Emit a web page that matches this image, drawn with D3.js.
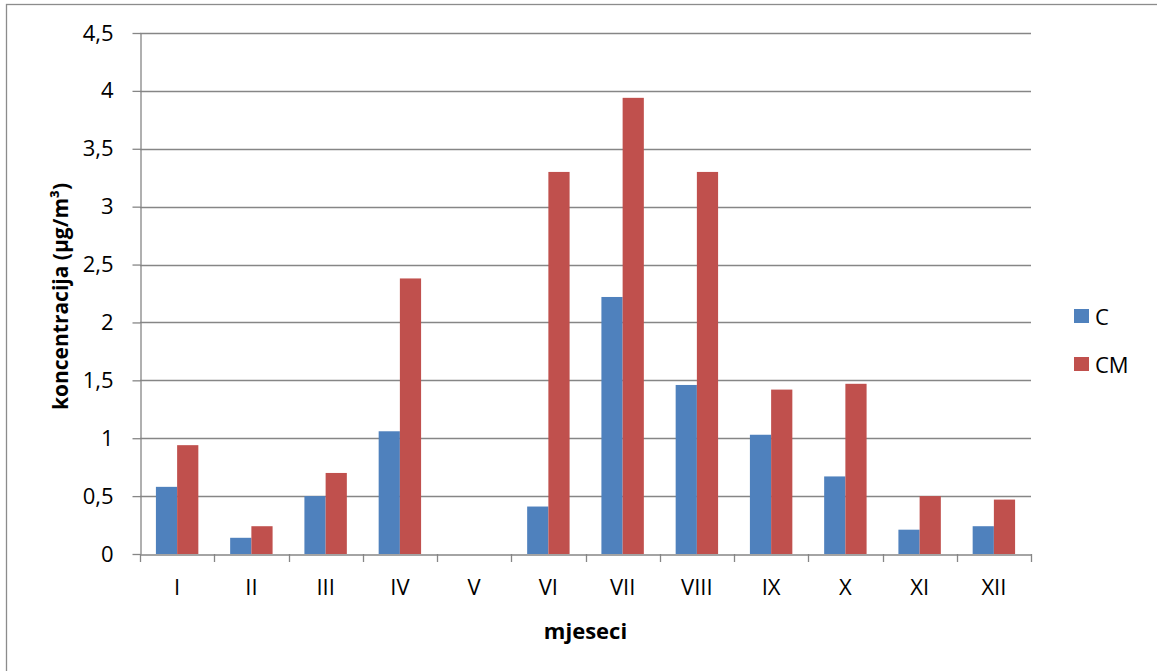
<!DOCTYPE html>
<html><head><meta charset="utf-8">
<script src="https://cdn.jsdelivr.net/npm/d3@7"></script>
<style>body{margin:0;background:#fff}svg{display:block}text{font-family:"Open Sans",sans-serif}</style>
</head><body>
<script>
const months = ["I","II","III","IV","V","VI","VII","VIII","IX","X","XI","XII"];
const seriesNames = ["C","CM"];
const valuesC  = [0.58,0.14,0.50,1.06,0,0.41,2.22,1.46,1.03,0.67,0.21,0.24];
const valuesCM = [0.94,0.24,0.70,2.38,0,3.30,3.94,3.30,1.42,1.47,0.50,0.47];
const yTicks = [0,0.5,1,1.5,2,2.5,3,3.5,4,4.5];
const colors = ["#4F81BD","#C0504D"];

const W=1157,H=671;
const m={left:140,right:1031,top:33,bottom:554};
const svg=d3.select("body").append("svg").attr("width",W).attr("height",H);
svg.append("rect").attr("x",6.5).attr("y",4.5).attr("width",W+10).attr("height",H+10)
  .attr("fill","#fff").attr("stroke","#8c8c8c").attr("stroke-width",1.3);

const x=d3.scaleBand().domain(months).range([m.left,m.right]);
const y=d3.scaleLinear().domain([0,4.5]).range([m.bottom,m.top]);
const fmt=d=>String(d).replace(".",",");
const grey="#868686";
const FS=22;

// gridlines
svg.append("g").selectAll("line").data(yTicks.filter(d=>d>0)).join("line")
  .attr("x1",m.left).attr("x2",m.right).attr("y1",d=>Math.round(y(d))+0.5).attr("y2",d=>Math.round(y(d))+0.5)
  .attr("stroke",grey).attr("stroke-width",1.3);

// y axis
const ya=svg.append("g").attr("transform",`translate(${m.left+0.5},0)`)
  .call(d3.axisLeft(y).tickValues(yTicks).tickFormat(fmt).tickSizeInner(8).tickSizeOuter(0).tickPadding(19));
ya.select(".domain").attr("stroke",grey).attr("stroke-width",1.3);
ya.selectAll(".tick line").attr("stroke",grey).attr("stroke-width",1.3);
ya.selectAll(".tick text").attr("font-size",FS).attr("fill","#000").attr("font-family","Open Sans");

// bars
const bw=x.bandwidth()/3.5;
const data=months.map((mo,i)=>({mo,vals:[valuesC[i],valuesCM[i]]}));
const g=svg.append("g");
data.forEach(d=>{
  d.vals.forEach((v,j)=>{
    if(v<=0) return;
    g.append("rect")
      .attr("x",x(d.mo)+x.bandwidth()/2-bw+j*bw)
      .attr("y",y(v)).attr("width",bw).attr("height",y(0)-y(v))
      .attr("fill",colors[j]);
  });
});

// x axis
const xa=svg.append("g").attr("transform",`translate(0,${Math.round(y(0))+0.5})`)
  .call(d3.axisBottom(x).tickSize(0).tickPadding(25));
xa.select(".domain").attr("stroke",grey).attr("stroke-width",1.3);
xa.selectAll(".tick text").attr("font-size",FS).attr("fill","#000").attr("font-family","Open Sans");
// category boundary ticks
const bounds=months.map(mo=>x(mo)).concat([m.right]);
svg.append("g").selectAll("line").data(bounds).join("line")
  .attr("x1",d=>Math.round(d)+0.5).attr("x2",d=>Math.round(d)+0.5)
  .attr("y1",y(0)).attr("y2",y(0)+8).attr("stroke",grey).attr("stroke-width",1.3);

// axis titles
svg.append("text").attr("transform",`translate(68,${(m.top+m.bottom)/2+3}) rotate(-90)`)
  .attr("text-anchor","middle").attr("font-size",21).attr("font-weight","bold").text("koncentracija (µg/m³)");
svg.append("text").attr("x",(m.left+m.right)/2).attr("y",639)
  .attr("text-anchor","middle").attr("font-size",22).attr("font-weight","bold").text("mjeseci");

// legend
const lg=svg.append("g");
seriesNames.forEach((s,i)=>{
  const yy=316+i*48;
  lg.append("rect").attr("x",1074).attr("y",yy-7).attr("width",15).attr("height",14).attr("fill",colors[i]);
  lg.append("text").attr("x",1095).attr("y",yy+9).attr("font-size",FS).text(s);
});
</script>
</body></html>
